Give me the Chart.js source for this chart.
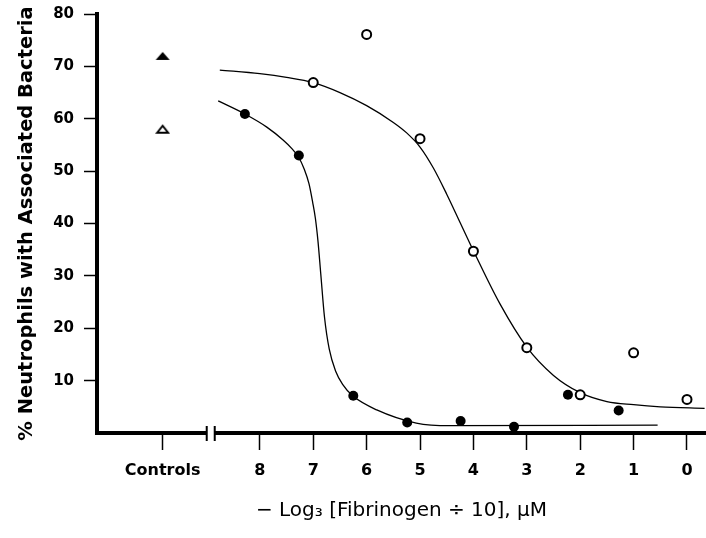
<!DOCTYPE html>
<html>
<head>
<meta charset="utf-8">
<script src="https://cdn.jsdelivr.net/npm/chart.js@4"></script>
<style>
  html, body { margin: 0; padding: 0; background: #fff; }
  #chart { display: block; }
</style>
</head>
<body>
<canvas id="chart" width="706" height="538"></canvas>
<script>
// x is the -log3 position; "Controls" sits left of 8, past an axis break
const controlsX = 9.82;
const doseTicks = [8, 7, 6, 5, 4, 3, 2, 1, 0];
const breakAt = 8.92;

const controlFilled = [72];
const controlOpen = [58];

const openX = [7, 6, 5, 4, 3, 2, 1, 0];
const openY = [66.9, 76.1, 56.2, 34.7, 16.3, 7.3, 15.3, 6.4];

const filledX = [8.28, 7.27, 6.25, 5.24, 4.24, 3.24, 2.23, 1.28];
const filledY = [60.9, 53.0, 7.1, 2.0, 2.3, 1.2, 7.3, 4.3];

// fitted curves
const openFitX = [8.75, 8, 7.5, 7, 6.5, 6, 5.5, 5.25, 5, 4.75, 4.5, 4.25, 4, 3.5, 3, 2.5, 2, 1.5, 1, 0.5, -0.33];
const openFitY = [69.3, 68.6, 67.9, 66.9, 65.0, 62.5, 59.3, 57.3, 54.6, 50.6, 45.6, 40.2, 34.8, 24.6, 16.4, 11.0, 7.7, 6.0, 5.4, 5.0, 4.7];

const filledFitX = [8.78, 8.28, 7.87, 7.56, 7.4, 7.27, 7.17, 7.08, 7.01, 6.96, 6.91, 6.86, 6.79, 6.7, 6.58, 6.45, 6.26, 5.81, 5.07, 4.44, 0.55];
const filledFitY = [63.4, 60.9, 58.4, 55.9, 54.3, 52.6, 50.4, 47.6, 44.0, 41.0, 36.5, 30.5, 22.2, 16.0, 11.8, 9.3, 7.1, 4.4, 1.9, 1.4, 1.5];

const pts = (xs, ys) => xs.map((x, i) => ({ x, y: ys[i] }));

// flat triangle markers like the figure's
const triangle = (w, h, filled) => {
    const c = document.createElement('canvas');
    c.width = w + 4;
    c.height = h + 4;
    const g = c.getContext('2d');
    g.beginPath();
    g.moveTo(2 + w / 2, 2);
    g.lineTo(2 + w, 2 + h);
    g.lineTo(2, 2 + h);
    g.closePath();
    if (filled) {
        g.fillStyle = '#000';
        g.fill();
    } else {
        g.lineWidth = 2;
        g.strokeStyle = '#000';
        g.stroke();
    }
    return c;
};

const axisBreak = {
    id: 'axisBreak',
    afterDraw(chart) {
        const { ctx, scales: { x } } = chart;
        const px = x.getPixelForValue(breakAt);
        const y = x.top;
        ctx.save();
        ctx.fillStyle = '#fff';
        ctx.fillRect(px - 4, y - 4, 8, 9);
        ctx.strokeStyle = '#000';
        ctx.lineWidth = 2;
        ctx.beginPath();
        ctx.moveTo(px - 4, y - 7);
        ctx.lineTo(px - 4, y + 8);
        ctx.moveTo(px + 4, y - 7);
        ctx.lineTo(px + 4, y + 8);
        ctx.stroke();
        ctx.restore();
    }
};

// keep the plot box where the figure has it
const noEdgePadding = scale => {
    scale.paddingTop = 0;
    scale.paddingBottom = 0;
    scale.paddingLeft = 0;
    scale.paddingRight = 0;
};

Chart.defaults.font.family = "'DejaVu Sans', sans-serif";
Chart.defaults.color = '#000';

new Chart(document.getElementById('chart'), {
    type: 'scatter',
    data: {
        datasets: [
            {
                data: pts(openX, openY),
                pointStyle: 'circle',
                pointRadius: 4.5,
                pointBorderWidth: 2,
                pointBackgroundColor: '#fff',
                pointBorderColor: '#000'
            },
            {
                data: pts(filledX, filledY),
                pointStyle: 'circle',
                pointRadius: 5,
                pointBorderWidth: 0,
                pointBackgroundColor: '#000',
                pointBorderColor: '#000'
            },
            {
                data: controlFilled.map(y => ({ x: controlsX, y })),
                pointStyle: triangle(14, 8, true),
                pointRadius: 7
            },
            {
                data: controlOpen.map(y => ({ x: controlsX, y })),
                pointStyle: triangle(11, 7, false),
                pointRadius: 6
            },
            {
                data: pts(openFitX, openFitY),
                showLine: true,
                cubicInterpolationMode: 'monotone',
                borderColor: '#000',
                borderWidth: 1.3,
                pointRadius: 0
            },
            {
                data: pts(filledFitX, filledFitY),
                showLine: true,
                cubicInterpolationMode: 'monotone',
                borderColor: '#000',
                borderWidth: 1.3,
                pointRadius: 0
            }
        ]
    },
    options: {
        responsive: false,
        animation: false,
        devicePixelRatio: 1,
        events: [],
        layout: { autoPadding: false, padding: { top: 14, right: 0, bottom: 0, left: 0 } },
        plugins: {
            legend: { display: false },
            tooltip: { enabled: false }
        },
        scales: {
            x: {
                type: 'linear',
                reverse: true,
                min: -0.356,
                max: 11.05,
                afterBuildTicks: scale => {
                    scale.ticks = [controlsX, ...doseTicks].map(value => ({ value }));
                },
                afterFit: scale => {
                    scale.height = 105;
                    noEdgePadding(scale);
                },
                ticks: {
                    autoSkip: false,
                    maxRotation: 0,
                    padding: 11,
                    font: { size: 16, weight: 'bold' },
                    callback: v => v === controlsX ? 'Controls' : String(v)
                },
                grid: {
                    drawOnChartArea: false,
                    tickLength: 17,
                    tickWidth: 1.5,
                    tickColor: '#000'
                },
                border: { display: true, width: 4, color: '#000' },
                title: {
                    display: true,
                    text: '− Log₃ [Fibrinogen ÷ 10], μM',
                    font: { size: 20 },
                    padding: { top: 0, bottom: 15 }
                }
            },
            y: {
                min: 0,
                max: 80,
                afterFit: scale => {
                    scale.width = 97;
                    noEdgePadding(scale);
                },
                ticks: {
                    stepSize: 10,
                    padding: 10,
                    font: { size: 15, weight: 'bold' },
                    callback: v => v === 0 ? '' : v
                },
                grid: {
                    drawOnChartArea: false,
                    tickLength: 13,
                    tickWidth: 1.5,
                    tickColor: c => c.tick && c.tick.value === 0 ? 'rgba(0,0,0,0)' : '#000'
                },
                border: { display: true, width: 4, color: '#000' },
                title: {
                    display: true,
                    text: '% Neutrophils with Associated Bacteria',
                    font: { size: 19.5, weight: 'bold' },
                    padding: { top: 15, bottom: 0 }
                }
            }
        }
    },
    plugins: [axisBreak]
});
</script>
</body>
</html>
